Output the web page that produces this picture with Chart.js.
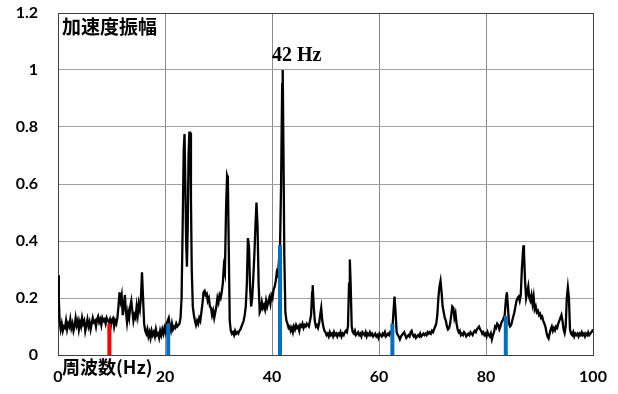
<!DOCTYPE html>
<html>
<head>
<meta charset="utf-8">
<script src="https://cdn.jsdelivr.net/npm/chart.js@4.4.0/dist/chart.umd.min.js"></script>
<style>
  body { margin: 0; background: #fff; }
</style>
</head>
<body>
<canvas id="spectrum" width="618" height="394"></canvas>
<script>
// 加速度スペクトル [周波数 Hz, 振幅]
const spectrumPoints = [
  [0, 0.28], [0.15, 0.2], [0.3, 0.12], [0.5, 0.09], [0.7, 0.11], [0.9, 0.085], [1.1, 0.1], [1.3, 0.095],
  [1.5, 0.12], [1.7, 0.09], [1.9, 0.11], [2.1, 0.1], [2.3, 0.125], [2.5, 0.095], [2.7, 0.11], [2.9, 0.085],
  [3.1, 0.1], [3.3, 0.13], [3.5, 0.105], [3.7, 0.12], [3.9, 0.09], [4.1, 0.115], [4.3, 0.1], [4.5, 0.13],
  [4.7, 0.11], [4.9, 0.12], [5.1, 0.085], [5.3, 0.105], [5.5, 0.125], [5.7, 0.1], [5.9, 0.115], [6.1, 0.09],
  [6.3, 0.11], [6.5, 0.13], [6.7, 0.115], [6.9, 0.12], [7.1, 0.1], [7.3, 0.125], [7.5, 0.135], [7.7, 0.115],
  [7.9, 0.125], [8.1, 0.105], [8.3, 0.13], [8.5, 0.12], [8.7, 0.125], [8.9, 0.11], [9.1, 0.13], [9.3, 0.12],
  [9.5, 0.115], [9.7, 0.125], [9.9, 0.105], [10.1, 0.125], [10.3, 0.13], [10.5, 0.1], [10.7, 0.12], [10.9, 0.11],
  [11.1, 0.13], [11.3, 0.17], [11.5, 0.22], [11.7, 0.19], [11.9, 0.21], [12.1, 0.14], [12.3, 0.17], [12.5, 0.21],
  [12.7, 0.15], [12.9, 0.115], [13.1, 0.15], [13.3, 0.13], [13.5, 0.17], [13.7, 0.19], [13.9, 0.155], [14.1, 0.12],
  [14.3, 0.14], [14.5, 0.13], [14.7, 0.17], [14.9, 0.14], [15.1, 0.18], [15.3, 0.16], [15.5, 0.2], [15.7, 0.29],
  [15.9, 0.2], [16.1, 0.11], [16.3, 0.085], [16.5, 0.075], [16.7, 0.09], [16.9, 0.065], [17.1, 0.08], [17.3, 0.06],
  [17.5, 0.085], [17.7, 0.07], [17.9, 0.08], [18.1, 0.065], [18.3, 0.09], [18.5, 0.07], [18.7, 0.075], [18.9, 0.06],
  [19.1, 0.085], [19.3, 0.07], [19.5, 0.09], [19.7, 0.075], [19.9, 0.095], [20.1, 0.08], [20.3, 0.11], [20.5, 0.12],
  [20.7, 0.13], [20.9, 0.1], [21.1, 0.085], [21.3, 0.11], [21.5, 0.09], [21.7, 0.1], [21.9, 0.095], [22.1, 0.11],
  [22.3, 0.1], [22.5, 0.105], [22.7, 0.11], [22.9, 0.13], [23.1, 0.2], [23.3, 0.45], [23.5, 0.72], [23.65, 0.775],
  [23.8, 0.6], [23.95, 0.4], [24.1, 0.31], [24.25, 0.45], [24.4, 0.7], [24.55, 0.78], [24.7, 0.78], [24.85, 0.55],
  [25.0, 0.3], [25.2, 0.17], [25.4, 0.14], [25.6, 0.12], [25.8, 0.105], [26.0, 0.12], [26.2, 0.11], [26.4, 0.13],
  [26.6, 0.12], [26.8, 0.15], [27.0, 0.18], [27.2, 0.22], [27.4, 0.225], [27.6, 0.21], [27.8, 0.215], [28.0, 0.19],
  [28.2, 0.2], [28.4, 0.17], [28.6, 0.165], [28.8, 0.14], [29.0, 0.155], [29.2, 0.13], [29.4, 0.15], [29.6, 0.17],
  [29.8, 0.2], [30.0, 0.185], [30.2, 0.21], [30.4, 0.2], [30.6, 0.22], [30.8, 0.25], [31.0, 0.31], [31.2, 0.29],
  [31.4, 0.5], [31.6, 0.63], [31.75, 0.62], [31.9, 0.4], [32.1, 0.12], [32.3, 0.085], [32.5, 0.075], [32.7, 0.08],
  [32.9, 0.07], [33.1, 0.085], [33.3, 0.075], [33.5, 0.08], [33.7, 0.075], [33.9, 0.085], [34.1, 0.09], [34.3, 0.1],
  [34.5, 0.11], [34.7, 0.12], [34.9, 0.14], [35.1, 0.17], [35.3, 0.25], [35.5, 0.41], [35.7, 0.38], [35.9, 0.24],
  [36.1, 0.17], [36.3, 0.2], [36.5, 0.27], [36.7, 0.35], [36.9, 0.45], [37.1, 0.535], [37.3, 0.45], [37.5, 0.25],
  [37.7, 0.15], [37.9, 0.16], [38.1, 0.185], [38.3, 0.165], [38.5, 0.175], [38.7, 0.16], [38.9, 0.19], [39.1, 0.17],
  [39.3, 0.185], [39.5, 0.2], [39.7, 0.18], [39.9, 0.21], [40.1, 0.2], [40.3, 0.23], [40.5, 0.24], [40.7, 0.26],
  [40.9, 0.29], [41.1, 0.28], [41.3, 0.33], [41.5, 0.38], [41.7, 0.6], [41.9, 0.95], [42.0, 1.0], [42.15, 0.7],
  [42.3, 0.35], [42.5, 0.15], [42.7, 0.12], [42.9, 0.11], [43.1, 0.095], [43.3, 0.1], [43.5, 0.085], [43.7, 0.095],
  [43.9, 0.08], [44.1, 0.1], [44.3, 0.09], [44.5, 0.105], [44.7, 0.095], [44.9, 0.1], [45.1, 0.085], [45.3, 0.105],
  [45.5, 0.1], [45.7, 0.11], [45.9, 0.095], [46.1, 0.105], [46.3, 0.1], [46.5, 0.11], [46.7, 0.105], [46.9, 0.1],
  [47.1, 0.12], [47.3, 0.14], [47.5, 0.22], [47.6, 0.245], [47.8, 0.17], [48.0, 0.12], [48.2, 0.1], [48.4, 0.105],
  [48.6, 0.095], [48.8, 0.11], [49.0, 0.14], [49.2, 0.165], [49.4, 0.12], [49.6, 0.1], [49.8, 0.085], [50.0, 0.08],
  [50.2, 0.07], [50.4, 0.075], [50.6, 0.065], [50.8, 0.08], [51.0, 0.07], [51.2, 0.075], [51.4, 0.065], [51.6, 0.08],
  [51.8, 0.07], [52.0, 0.075], [52.2, 0.065], [52.4, 0.075], [52.6, 0.07], [52.8, 0.08], [53.0, 0.065], [53.2, 0.075],
  [53.4, 0.07], [53.6, 0.08], [53.8, 0.085], [54.0, 0.08], [54.2, 0.1], [54.4, 0.25], [54.55, 0.335], [54.7, 0.25],
  [54.9, 0.1], [55.1, 0.08], [55.3, 0.075], [55.5, 0.085], [55.7, 0.07], [55.9, 0.075], [56.1, 0.08], [56.3, 0.07],
  [56.5, 0.075], [56.7, 0.065], [56.9, 0.08], [57.1, 0.075], [57.3, 0.07], [57.5, 0.08], [57.7, 0.065], [57.9, 0.075],
  [58.1, 0.07], [58.3, 0.08], [58.5, 0.07], [58.7, 0.075], [58.9, 0.065], [59.1, 0.07], [59.3, 0.075], [59.5, 0.065],
  [59.7, 0.07], [59.9, 0.06], [60.1, 0.075], [60.3, 0.07], [60.5, 0.065], [60.7, 0.075], [60.9, 0.07], [61.1, 0.08],
  [61.3, 0.065], [61.5, 0.07], [61.7, 0.075], [61.9, 0.07], [62.1, 0.08], [62.3, 0.075], [62.5, 0.09], [62.7, 0.15],
  [62.9, 0.205], [63.1, 0.15], [63.3, 0.08], [63.5, 0.07], [63.7, 0.065], [63.9, 0.055], [64.1, 0.065], [64.3, 0.07],
  [64.5, 0.075], [64.7, 0.08], [64.9, 0.07], [65.1, 0.06], [65.3, 0.065], [65.5, 0.07], [65.7, 0.065], [65.9, 0.08],
  [66.1, 0.085], [66.3, 0.07], [66.5, 0.065], [66.7, 0.07], [66.9, 0.06], [67.1, 0.065], [67.3, 0.07], [67.5, 0.065],
  [67.7, 0.075], [67.9, 0.065], [68.1, 0.07], [68.3, 0.075], [68.5, 0.07], [68.7, 0.075], [68.9, 0.07], [69.1, 0.08],
  [69.3, 0.075], [69.5, 0.08], [69.7, 0.075], [69.9, 0.085], [70.1, 0.08], [70.3, 0.09], [70.5, 0.1], [70.7, 0.11],
  [70.9, 0.14], [71.1, 0.2], [71.3, 0.24], [71.5, 0.26], [71.7, 0.22], [71.9, 0.17], [72.1, 0.15], [72.3, 0.13],
  [72.5, 0.12], [72.7, 0.1], [72.9, 0.09], [73.1, 0.095], [73.3, 0.11], [73.5, 0.14], [73.7, 0.17], [73.9, 0.165],
  [74.1, 0.13], [74.3, 0.145], [74.5, 0.11], [74.7, 0.09], [74.9, 0.08], [75.1, 0.085], [75.3, 0.07], [75.5, 0.075],
  [75.7, 0.07], [75.9, 0.08], [76.1, 0.075], [76.3, 0.065], [76.5, 0.07], [76.7, 0.075], [76.9, 0.07], [77.1, 0.08],
  [77.3, 0.075], [77.5, 0.07], [77.7, 0.08], [77.9, 0.085], [78.1, 0.08], [78.3, 0.09], [78.5, 0.095], [78.7, 0.1],
  [78.9, 0.09], [79.1, 0.085], [79.3, 0.075], [79.5, 0.08], [79.7, 0.07], [79.9, 0.075], [80.1, 0.065], [80.3, 0.08],
  [80.5, 0.07], [80.7, 0.065], [80.9, 0.075], [81.1, 0.055], [81.3, 0.07], [81.5, 0.08], [81.7, 0.1], [81.9, 0.095],
  [82.1, 0.11], [82.3, 0.105], [82.5, 0.09], [82.7, 0.1], [82.9, 0.115], [83.1, 0.12], [83.3, 0.13], [83.5, 0.14],
  [83.7, 0.19], [83.9, 0.22], [84.1, 0.17], [84.3, 0.11], [84.5, 0.1], [84.7, 0.105], [84.9, 0.12], [85.1, 0.135],
  [85.3, 0.15], [85.5, 0.17], [85.7, 0.19], [85.9, 0.2], [86.1, 0.205], [86.3, 0.19], [86.5, 0.21], [86.7, 0.3],
  [86.9, 0.36], [87.0, 0.385], [87.1, 0.36], [87.3, 0.26], [87.5, 0.2], [87.7, 0.22], [87.9, 0.24], [88.1, 0.2],
  [88.3, 0.19], [88.5, 0.21], [88.7, 0.18], [88.9, 0.205], [89.1, 0.16], [89.3, 0.17], [89.5, 0.15], [89.7, 0.155],
  [89.9, 0.14], [90.1, 0.145], [90.3, 0.13], [90.5, 0.135], [90.7, 0.12], [90.9, 0.11], [91.1, 0.1], [91.3, 0.08],
  [91.5, 0.065], [91.7, 0.058], [91.9, 0.075], [92.1, 0.09], [92.3, 0.1], [92.5, 0.085], [92.7, 0.095], [92.9, 0.087],
  [93.1, 0.1], [93.3, 0.095], [93.5, 0.11], [93.7, 0.12], [93.9, 0.13], [94.1, 0.14], [94.3, 0.12], [94.5, 0.09],
  [94.7, 0.077], [94.9, 0.1], [95.1, 0.2], [95.3, 0.237], [95.5, 0.2], [95.7, 0.09], [95.9, 0.075], [96.1, 0.07],
  [96.3, 0.08], [96.5, 0.065], [96.7, 0.075], [96.9, 0.07], [97.1, 0.075], [97.3, 0.065], [97.5, 0.075], [97.7, 0.07],
  [97.9, 0.08], [98.1, 0.07], [98.3, 0.075], [98.5, 0.065], [98.7, 0.075], [98.9, 0.07], [99.1, 0.08], [99.3, 0.07],
  [99.5, 0.075], [99.7, 0.08], [99.9, 0.085], [100, 0.09]
];

// 縦棒（回転数とその高調波）
const markerFreqs = [9.6, 20.6, 41.5, 62.5, 83.7];
const markerHeights = [0.11, 0.11, 0.385, 0.11, 0.137];
const markerColors = ['#ff0000', '#0070c0', '#0070c0', '#0070c0', '#0070c0'];

const xTicks = [0, 20, 40, 60, 80, 100];
const yTicks = [0, 0.2, 0.4, 0.6, 0.8, 1, 1.2];

Chart.defaults.font.family = 'Lato';
Chart.defaults.font.weight = 'bold';
Chart.defaults.font.size = 16;
Chart.defaults.color = '#000';

const markerSets = markerFreqs.map((f, i) => ({
  data: [{ x: f, y: 0 }, { x: f, y: markerHeights[i] }],
  borderColor: markerColors[i],
  borderWidth: 4,
  borderCapStyle: 'butt',
  pointRadius: 0,
  order: 0
}));

// 軸ラベルによる余白を消して描画領域を固定
function noPad(s) {
  s.paddingTop = 0;
  s.paddingBottom = 0;
  s.paddingLeft = 0;
  s.paddingRight = 0;
}

// 枠線と文字
const overlay = {
  id: 'overlay',
  beforeDatasetsDraw(chart) {
    const { ctx, chartArea: a } = chart;
    ctx.save();
    ctx.strokeStyle = '#404040';
    ctx.lineWidth = 1;
    ctx.strokeRect(Math.round(a.left) + 0.5, Math.round(a.top) + 0.5,
      Math.round(a.right - a.left), Math.round(a.bottom - a.top));
    ctx.restore();
  },
  afterDraw(chart) {
    const { ctx, chartArea: a, scales: { x, y } } = chart;
    ctx.save();
    ctx.fillStyle = '#000';
    ctx.textBaseline = 'alphabetic';
    ctx.textAlign = 'left';
    ctx.font = 'bold 19px "Noto Sans CJK JP"';
    ctx.fillText('加速度振幅', a.left + 4, a.top + 21);
    ctx.font = 'bold 20px "Liberation Serif"';
    ctx.fillText('42 Hz', x.getPixelForValue(40), y.getPixelForValue(1.03));
    ctx.font = 'bold 18px "Noto Sans CJK JP"';
    ctx.fillText('周波数(Hz)', a.left + 4, a.bottom + 19);
    ctx.restore();
  }
};

new Chart(document.getElementById('spectrum'), {
  type: 'line',
  data: {
    datasets: [
      ...markerSets,
      {
        data: spectrumPoints.map(p => ({ x: p[0], y: p[1] })),
        borderColor: '#000',
        borderWidth: 2.3,
        pointRadius: 0,
        tension: 0,
        order: 1
      }
    ]
  },
  options: {
    responsive: false,
    animation: false,
    layout: { padding: { top: 13, right: 25, left: 0, bottom: 0 } },
    plugins: { legend: { display: false }, tooltip: { enabled: false } },
    scales: {
      x: {
        type: 'linear',
        min: 0,
        max: 100,
        afterFit: s => { s.height = 39; noPad(s); },
        afterBuildTicks: s => { s.ticks = xTicks.map(v => ({ value: v })); },
        ticks: { padding: 12, maxRotation: 0 },
        grid: { color: '#8c8c8c', drawTicks: false },
        border: { color: '#000', width: 1 }
      },
      y: {
        min: 0,
        max: 1.2,
        afterFit: s => { s.width = 58; noPad(s); },
        afterBuildTicks: s => { s.ticks = yTicks.map(v => ({ value: v })); },
        ticks: { padding: 20, callback: v => String(+v.toFixed(1)) },
        grid: { color: '#a0a0a0', drawTicks: false },
        border: { color: '#000', width: 1 }
      }
    }
  },
  plugins: [overlay]
});
</script>
</body>
</html>
